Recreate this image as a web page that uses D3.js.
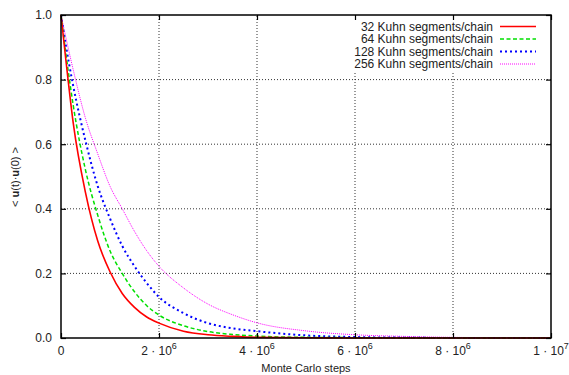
<!DOCTYPE html>
<html><head><meta charset="utf-8">
<script src="https://cdn.jsdelivr.net/npm/d3@7"></script>
<style>body{margin:0;background:#fff}svg{display:block;font-family:"Liberation Sans",Arial,sans-serif}</style>
</head><body><svg id="c" width="569" height="375"></svg>
<script>
const steps = [0,0.1e6,0.25e6,0.5e6,0.75e6,1e6,1.25e6,1.5e6,1.75e6,2e6,2.5e6,3e6,3.5e6,4e6,5e6,6e6,7e6,8e6,9e6,10e6];
const seg32  = [1.0,0.86,0.665,0.45,0.30,0.205,0.138,0.095,0.065,0.046,0.021,0.010,0.005,0.002,0.001,0,0,0,0,0];
const seg64  = [1.0,0.88,0.72,0.52,0.38,0.27,0.20,0.143,0.10,0.071,0.038,0.020,0.011,0.006,0.002,0.001,0,0,0,0];
const seg128 = [1.0,0.905,0.78,0.61,0.47,0.37,0.285,0.222,0.17,0.127,0.077,0.046,0.030,0.021,0.008,0.003,0.001,0,0,0];
const seg256 = [1.0,0.93,0.83,0.68,0.57,0.47,0.40,0.33,0.27,0.222,0.155,0.105,0.072,0.047,0.022,0.010,0.005,0.002,0.001,0];
const seriesNames = ["32 Kuhn segments/chain","64 Kuhn segments/chain","128 Kuhn segments/chain","256 Kuhn segments/chain"];
const xTicks = [0,2e6,4e6,6e6,8e6,10e6];
const xTickBase = ["0","2 · 10","4 · 10","6 · 10","8 · 10","1 · 10"];
const xTickExp = ["","6","6","6","6","7"];
const yTicks = [0,0.2,0.4,0.6,0.8,1.0];
const yTickLabels = ["0.0","0.2","0.4","0.6","0.8","1.0"];

const styles = [
  {color:"#ff0000", dash:null, w:1.6},
  {color:"#00e000", dash:"4,2.5", w:1.5},
  {color:"#0000ff", dash:"2,3", w:2},
  {color:"#ff00ff", dash:"1,1", w:1}
];
const allSeries = [seg32, seg64, seg128, seg256];

const L=61, R=551, T=15, B=338;
const svg = d3.select("#c");
const x = d3.scaleLinear().domain([0,1e7]).range([L,R]);
const y = d3.scaleLinear().domain([0,1]).range([B,T]);

// grid
const g = svg.append("g");
g.selectAll(".gx").data(xTicks.slice(1,-1)).join("line")
  .attr("x1",d=>x(d)).attr("x2",d=>x(d)).attr("y1",B).attr("y2",T)
  .attr("stroke","#333").attr("stroke-width",1).attr("stroke-dasharray","1,2");
g.selectAll(".gy").data(yTicks.slice(1,-1)).join("line")
  .attr("x1",L).attr("x2",R).attr("y1",d=>y(d)).attr("y2",d=>y(d))
  .attr("stroke","#333").attr("stroke-width",1).attr("stroke-dasharray","1,2");

// legend background
svg.append("rect").attr("x",335).attr("y",T+1).attr("width",R-336).attr("height",55).attr("fill","#fff");

// curves
const line = d3.line().x((d,i)=>x(steps[i])).y(d=>y(d)).curve(d3.curveMonotoneX);
allSeries.slice().reverse().forEach((s,ri)=>{
  const i = 3-ri, st = styles[i];
  svg.append("path").attr("d",line(s)).attr("fill","none")
    .attr("stroke",st.color).attr("stroke-width",st.w)
    .attr("stroke-dasharray",st.dash);
});

// axes with inward ticks
const axB = svg.append("g").attr("transform",`translate(0,${B})`)
  .call(d3.axisBottom(x).tickValues(xTicks).tickSizeInner(-5).tickSizeOuter(0).tickFormat(""));
const axT = svg.append("g").attr("transform",`translate(0,${T})`)
  .call(d3.axisTop(x).tickValues(xTicks).tickSizeInner(-5).tickSizeOuter(0).tickFormat(""));
const axL = svg.append("g").attr("transform",`translate(${L},0)`)
  .call(d3.axisLeft(y).tickValues(yTicks).tickSizeInner(-5).tickSizeOuter(0).tickFormat(""));
const axR = svg.append("g").attr("transform",`translate(${R},0)`)
  .call(d3.axisRight(y).tickValues(yTicks).tickSizeInner(-5).tickSizeOuter(0).tickFormat(""));
[axB,axT,axL,axR].forEach(a=>{a.select(".domain").remove();a.selectAll("line").attr("stroke","#000").attr("stroke-width",1.2);});

// border
svg.append("rect").attr("x",L).attr("y",T).attr("width",R-L).attr("height",B-T)
  .attr("fill","none").attr("stroke","#000").attr("stroke-width",1.5);

// tick labels
svg.selectAll(".yl").data(yTicks).join("text")
  .attr("x",52).attr("y",d=>y(d)+4.3).attr("text-anchor","end")
  .attr("font-size",12).attr("fill","#222").text((d,i)=>yTickLabels[i]);
xTicks.forEach((d,i)=>{
  const t = svg.append("text").attr("x",x(d)).attr("y",355).attr("text-anchor","middle")
    .attr("font-size",12).attr("fill","#222");
  t.append("tspan").text(xTickBase[i]);
  if (xTickExp[i]) t.append("tspan").attr("dy",-6).attr("font-size",9).text(xTickExp[i]);
});

// axis titles
svg.append("text").attr("x",(L+R)/2).attr("y",372).attr("text-anchor","middle")
  .attr("font-size",11).attr("fill","#222").text("Monte Carlo steps");
const yt = svg.append("text").attr("transform","translate(19,177) rotate(-90)")
  .attr("text-anchor","middle").attr("font-size",11).attr("fill","#222");
yt.append("tspan").text("< ");
yt.append("tspan").attr("font-weight","bold").text("u");
yt.append("tspan").text("(t)·");
yt.append("tspan").attr("font-weight","bold").text("u");
yt.append("tspan").text("(0) >");

// legend
const rowY = [26.5,39,51.5,64];
seriesNames.forEach((n,i)=>{
  svg.append("text").attr("x",493).attr("y",rowY[i]+4.2).attr("text-anchor","end")
    .attr("font-size",12).attr("fill","#222").text(n);
  svg.append("line").attr("x1",500).attr("x2",536).attr("y1",rowY[i]).attr("y2",rowY[i])
    .attr("stroke",styles[i].color).attr("stroke-width",styles[i].w).attr("stroke-dasharray",styles[i].dash);
});
</script></body></html>
